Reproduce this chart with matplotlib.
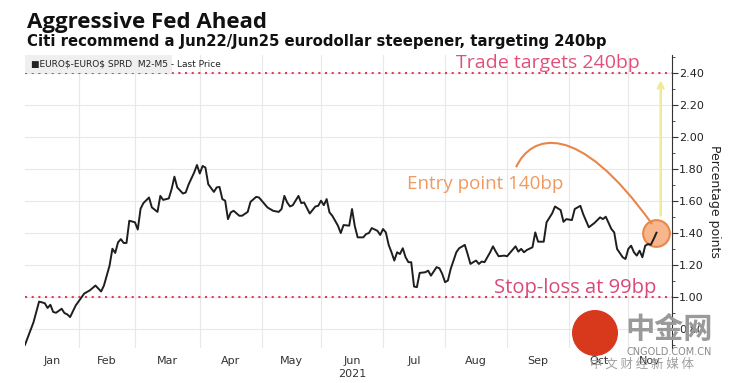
import matplotlib.pyplot as plt
import pandas as pd
from matplotlib.path import Path
from matplotlib.patches import PathPatch, Rectangle, Circle


# trading day number counted from 4 Jan 2021, and the spread in percentage points
trade_day = [1, 4, 6, 8, 9, 10, 11, 12, 14, 15, 16, 17, 19, 20, 22, 24, 26, 28, 29, 31,
             32, 33, 34, 35, 36, 37, 38, 40, 41, 42, 43, 45, 46, 48, 49, 50, 52, 53, 54, 55,
             57, 58, 59, 61, 62, 63, 64, 65, 66, 68, 69, 70, 71, 72, 73, 74, 75, 77, 78, 80,
             81, 83, 84, 86, 87, 89, 91, 92, 93, 94, 95, 96, 98, 99, 100, 102, 104, 105, 106, 107,
             108, 109, 110, 112, 113, 114, 116, 117, 118, 119, 121, 122, 123, 124, 126, 127, 128, 129, 130, 131,
             132, 133, 134, 135, 136, 137, 138, 139, 140, 141, 143, 144, 145, 147, 148, 149, 150, 151, 152, 154,
             155, 157, 158, 159, 160, 161, 162, 163, 164, 166, 167, 168, 169, 171, 172, 173, 175, 176, 177, 178,
             179, 181, 182, 183, 185, 186, 188, 189, 191, 192, 193, 195, 196, 198, 199, 201, 203, 205, 206, 207,
             209, 210, 211, 213, 214, 215, 216, 217, 218, 219, 220, 221, 222, 223, 224, 225]
spread = [0.70, 0.84, 0.97, 0.96, 0.93, 0.95, 0.905, 0.90, 0.925, 0.898, 0.89, 0.873, 0.946, 0.971, 1.02, 1.04, 1.07, 1.033, 1.07, 1.195,
          1.30, 1.274, 1.34, 1.36, 1.336, 1.336, 1.475, 1.465, 1.42, 1.55, 1.585, 1.62, 1.558, 1.53, 1.63, 1.605, 1.614, 1.672, 1.75, 1.683,
          1.645, 1.651, 1.70, 1.776, 1.823, 1.77, 1.817, 1.807, 1.703, 1.655, 1.683, 1.686, 1.61, 1.60, 1.485, 1.527, 1.537, 1.506, 1.506, 1.53,
          1.593, 1.624, 1.62, 1.579, 1.558, 1.537, 1.53, 1.548, 1.63, 1.589, 1.564, 1.572, 1.63, 1.585, 1.589, 1.52, 1.564, 1.568, 1.60, 1.572,
          1.61, 1.527, 1.506, 1.444, 1.398, 1.448, 1.444, 1.548, 1.44, 1.371, 1.371, 1.392, 1.398, 1.429, 1.412, 1.386, 1.423, 1.402, 1.324, 1.278,
          1.226, 1.278, 1.267, 1.303, 1.247, 1.216, 1.216, 1.064, 1.06, 1.149, 1.153, 1.163, 1.132, 1.185, 1.178, 1.143, 1.091, 1.101, 1.174, 1.278,
          1.303, 1.324, 1.267, 1.205, 1.216, 1.226, 1.205, 1.22, 1.216, 1.278, 1.315, 1.282, 1.253, 1.257, 1.253, 1.274, 1.315, 1.282, 1.299, 1.278,
          1.292, 1.309, 1.402, 1.344, 1.344, 1.465, 1.521, 1.564, 1.541, 1.468, 1.485, 1.479, 1.548, 1.568, 1.516, 1.434, 1.461, 1.496, 1.485, 1.50,
          1.423, 1.402, 1.299, 1.247, 1.236, 1.299, 1.319, 1.278, 1.257, 1.288, 1.247, 1.319, 1.329, 1.325, 1.361, 1.40]

month_names = ["Jan", "Feb", "Mar", "Apr", "May", "Jun", "Jul", "Aug", "Sep", "Oct", "Nov"]
target_level = 2.40
stop_level = 1.00
entry_level = 1.40
y_ticks = [0.80, 1.00, 1.20, 1.40, 1.60, 1.80, 2.00, 2.20, 2.40]

bdays = pd.bdate_range("2021-01-04", "2021-11-30")
x_min, x_max = 1.0, 230.5

fig = plt.figure(figsize=(7.29, 3.83), dpi=100)
ax = fig.add_axes([25 / 729, 1 - 348 / 383, 647 / 729, 293 / 383])

# month gridlines and centred month labels (weekends are squeezed out, Bloomberg style)
label_pos = []
for m in range(1, 12):
    idx = [i for i, d in enumerate(bdays) if d.month == m]
    start, end = idx[0], idx[-1] + 1
    if m > 1:
        ax.axvline(start, color="#e8e8e8", lw=0.8, zorder=0)
    label_pos.append((max(start, x_min) + min(end, x_max)) / 2)
ax.set_xticks(label_pos)
ax.set_xticklabels(month_names)
ax.tick_params(axis="x", length=0, labelsize=8, labelcolor="#333333", pad=6)
ax.text(label_pos[5], -0.09, "2021", transform=ax.get_xaxis_transform(), ha="center", va="center",
        fontsize=8, color="#333333")

for v in y_ticks:
    ax.axhline(v, color="#e8e8e8", lw=0.8, zorder=0)

# target and stop-loss levels
ax.axhline(target_level, color="#d8405c", lw=1.5, ls=(0, (1, 2.2)), zorder=1)
ax.axhline(stop_level, color="#d8405c", lw=1.5, ls=(0, (1, 2.2)), zorder=1)

ax.plot(trade_day, spread, color="#1e1e1e", lw=1.4, zorder=4)

# entry point marker, arrow up to the target and the curved call-out
entry_day = trade_day[-1]
ax.scatter([entry_day], [entry_level], s=370, facecolor="#f7b68c", edgecolor="#e8884a", lw=1.5, zorder=3)
ax.annotate("", xy=(entry_day + 1.5, 2.37), xytext=(entry_day + 1.5, 1.49),
            arrowprops=dict(arrowstyle="->", color="#eeea98", lw=1.8), zorder=2)
curve = Path([(175.2, 1.809), (180.5, 2.014), (197.0, 2.107), (223.4, 1.454)],
             [Path.MOVETO, Path.CURVE4, Path.CURVE4, Path.CURVE4])
ax.add_patch(PathPatch(curve, facecolor="none", edgecolor="#e8864a", lw=1.5, zorder=3))

ax.text(186.5, 2.43, "Trade targets 240bp", color="#e0507a", fontsize=14, family="Open Sans",
        ha="center", va="baseline")
ax.text(164.4, 1.672, "Entry point 140bp", color="#ee9a60", fontsize=13.5, family="Open Sans",
        ha="center", va="baseline")
ax.text(196.1, 1.025, "Stop-loss at 99bp", color="#d94a7a", fontsize=14.5, family="Open Sans",
        ha="center", va="baseline")

ax.set_xlim(x_min, x_max)
ax.set_ylim(0.68, 2.51)
ax.yaxis.tick_right()
ax.set_yticks(y_ticks)
ax.set_yticklabels(["%.2f" % v for v in y_ticks])
ax.set_yticks([v / 100 for v in range(70, 251, 10)], minor=True)
ax.tick_params(axis="y", which="major", length=4, width=0.8, color="#333333", labelsize=8,
               labelcolor="#222222", pad=1)
ax.tick_params(axis="y", which="minor", length=2, width=0.6, color="#333333")
ax.yaxis.set_label_position("right")
ax.set_ylabel("Percentage points", rotation=270, fontsize=9, color="#222222", va="center")
ax.yaxis.set_label_coords(1.066, 0.5)
for side in ["left", "top", "bottom"]:
    ax.spines[side].set_visible(False)
ax.spines["right"].set_color("#333333")
ax.spines["right"].set_linewidth(0.8)

# legend strip
fig.patches.append(Rectangle((25 / 729, 1 - 73 / 383), 147 / 729, 18 / 383, transform=fig.transFigure,
                             facecolor="#efefef", edgecolor="none", zorder=5))
fig.text(31 / 729, 1 - 64 / 383, "\u25A0EURO\\$-EURO\\$ SPRD  M2-M5 - Last Price", fontsize=6.5,
         family=["Liberation Sans Narrow", "DejaVu Sans"], color="#222222", va="center", zorder=6)

fig.text(27 / 729, 1 - 28 / 383, "Aggressive Fed Ahead", fontsize=16, fontweight="bold",
         family="Open Sans", color="#111111", va="baseline")
fig.text(27 / 729, 1 - 46 / 383, "Citi recommend a Jun22/Jun25 eurodollar steepener, targeting 240bp",
         fontsize=10.7, fontweight="bold", family="DejaVu Sans", color="#111111", va="baseline")

# site watermark
fig.patches.append(Circle((5.95, 3.83 - 3.33), 0.23, transform=fig.dpi_scale_trans,
                          facecolor="#d8381c", edgecolor="none", zorder=7))
fig.text(669 / 729, 1 - 329 / 383, "中金网", fontsize=21, fontweight="bold", family=["Noto Sans CJK SC"],
         color="#9a9a9a", ha="center", va="center", zorder=8)
fig.text(669 / 729, 1 - 352 / 383, "CNGOLD.COM.CN", fontsize=7, color="#8a8a8a",
         ha="center", va="center", zorder=8)
fig.text(642 / 729, 1 - 364 / 383, "中 文 财 经 新 媒 体", fontsize=9, family=["Noto Sans CJK SC"],
         color="#a0a0a0", ha="center", va="center", zorder=8)

fig.savefig("out.png", dpi=100)
